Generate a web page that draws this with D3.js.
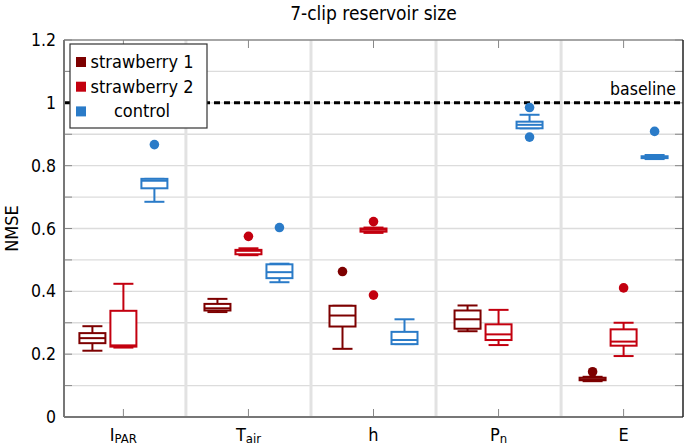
<!DOCTYPE html>
<html><head><meta charset="utf-8">
<script src="https://cdn.jsdelivr.net/npm/d3@7"></script>
<style>
body{margin:0;background:#fff;}
text{font-family:"DejaVu Sans Condensed","DejaVu Sans",sans-serif;fill:#000;}
</style></head>
<body><svg id="c" width="685" height="446"></svg>
<script>
// ---- data ----
const categories = ["I_PAR", "T_air", "h", "P_n", "E"];
const catMain = ["I", "T", "h", "P", "E"];
const catSub = ["PAR", "air", "", "n", ""];
const seriesNames = ["strawberry 1", "strawberry 2", "control"];
const seriesColors = ["#7d0000", "#c3000f", "#2a7bc8"];
// [lower whisker, q1, median, q3, upper whisker] per category
const strawberry1 = [
  [0.211, 0.235, 0.251, 0.267, 0.289],
  [0.334, 0.339, 0.346, 0.360, 0.376],
  [0.217, 0.288, 0.323, 0.354, 0.354],
  [0.273, 0.281, 0.311, 0.339, 0.355],
  [0.114, 0.117, 0.120, 0.125, 0.128]
];
const strawberry2 = [
  [0.221, 0.224, 0.228, 0.338, 0.424],
  [0.515, 0.518, 0.529, 0.532, 0.537],
  [0.586, 0.590, 0.596, 0.600, 0.603],
  [0.229, 0.245, 0.263, 0.295, 0.341],
  [0.194, 0.227, 0.240, 0.279, 0.300]
];
const control = [
  [0.685, 0.728, 0.752, 0.758, 0.758],
  [0.429, 0.442, 0.461, 0.486, 0.488],
  [0.232, 0.232, 0.245, 0.271, 0.311],
  [0.919, 0.919, 0.930, 0.940, 0.962],
  [0.821, 0.824, 0.827, 0.830, 0.834]
];
const outliers1 = [[], [], [0.463], [], [0.144]];
const outliers2 = [[], [0.575], [0.622, 0.388], [], [0.411]];
const outliersC = [[0.867], [0.603], [], [0.985, 0.891], [0.909]];
const yTicks = [0, 0.2, 0.4, 0.6, 0.8, 1, 1.2];
const yTickLabels = ["0", "0.2", "0.4", "0.6", "0.8", "1", "1.2"];
const baselineValue = 1;
const title = "7-clip reservoir size";
const yLabel = "NMSE";

// ---- layout ----
const svg = d3.select("#c");
const L = 64, R = 683, T = 40, B = 417;
const x = d3.scaleLinear().domain([0.525, 5.475]).range([L, R]);
const y = d3.scaleLinear().domain([0, 1.2]).range([B, T]);
const offset = d3.scaleOrdinal().domain([0, 1, 2]).range([-31, 0, 31]);
const boxW = 26, capW = 20;

const grid = d3.range(0, 13).map(i => i / 10);
// horizontal grid
svg.append("g").selectAll("line").data(grid.slice(1, 12)).join("line")
  .attr("x1", L).attr("x2", R).attr("y1", d => y(d)).attr("y2", d => y(d))
  .attr("stroke", "#dcdcdc").attr("stroke-width", 1.3);
// group separators
svg.append("g").selectAll("line").data([1.5, 2.5, 3.5, 4.5]).join("line")
  .attr("x1", d => x(d)).attr("x2", d => x(d)).attr("y1", T).attr("y2", B)
  .attr("stroke", "#e2e2e2").attr("stroke-width", 3);

// axis ticks (inward)
const tickG = svg.append("g").attr("stroke", "#888").attr("stroke-width", 1);
tickG.selectAll(".tl").data(grid).join("line").attr("class","tl")
  .attr("x1", L).attr("x2", L + 8).attr("y1", d => y(d)).attr("y2", d => y(d));
tickG.selectAll(".tr").data(grid).join("line").attr("class","tr")
  .attr("x1", R - 8).attr("x2", R).attr("y1", d => y(d)).attr("y2", d => y(d));
tickG.selectAll(".tb").data(d3.range(1, 6)).join("line").attr("class","tb")
  .attr("x1", d => x(d)).attr("x2", d => x(d)).attr("y1", B).attr("y2", B - 8);
tickG.selectAll(".tt").data(d3.range(1, 6)).join("line").attr("class","tt")
  .attr("x1", d => x(d)).attr("x2", d => x(d)).attr("y1", T).attr("y2", T + 8);

// baseline
svg.append("line").attr("x1", L).attr("x2", R)
  .attr("y1", y(baselineValue)).attr("y2", y(baselineValue))
  .attr("stroke", "#000").attr("stroke-width", 3).attr("stroke-dasharray", "6,4");
svg.append("text").attr("x", 676).attr("y", y(baselineValue) - 8)
  .attr("text-anchor", "end").attr("font-size", 17.5).text("baseline");

// boxes
const allSeries = [strawberry1, strawberry2, control];
const allOut = [outliers1, outliers2, outliersC];
allSeries.forEach((s, si) => {
  const col = seriesColors[si];
  const g = svg.append("g").attr("stroke", col).attr("fill", "none").attr("stroke-width", 2);
  s.forEach((st, ci) => {
    const cx = x(ci + 1) + offset(si);
    const [lw, q1, med, q3, uw] = st;
    g.append("line").attr("x1", cx).attr("x2", cx).attr("y1", y(q3)).attr("y2", y(uw));
    g.append("line").attr("x1", cx).attr("x2", cx).attr("y1", y(q1)).attr("y2", y(lw));
    g.append("line").attr("x1", cx - capW / 2).attr("x2", cx + capW / 2).attr("y1", y(uw)).attr("y2", y(uw));
    g.append("line").attr("x1", cx - capW / 2).attr("x2", cx + capW / 2).attr("y1", y(lw)).attr("y2", y(lw));
    g.append("rect").attr("x", cx - boxW / 2).attr("width", boxW)
      .attr("y", y(q3)).attr("height", Math.max(0, y(q1) - y(q3))).attr("fill", "#fff");
    g.append("line").attr("x1", cx - boxW / 2).attr("x2", cx + boxW / 2).attr("y1", y(med)).attr("y2", y(med));
    allOut[si][ci].forEach(v => {
      svg.append("circle").attr("cx", cx).attr("cy", y(v)).attr("r", 4.8).attr("fill", col);
    });
  });
});

// axes frame
svg.append("line").attr("x1", L).attr("x2", R).attr("y1", T).attr("y2", T).attr("stroke", "#888").attr("stroke-width", 1.5);
svg.append("line").attr("x1", L).attr("x2", R).attr("y1", B).attr("y2", B).attr("stroke", "#777").attr("stroke-width", 2);
svg.append("line").attr("x1", L).attr("x2", L).attr("y1", T).attr("y2", B).attr("stroke", "#777").attr("stroke-width", 2);
svg.append("line").attr("x1", R).attr("x2", R).attr("y1", T).attr("y2", B).attr("stroke", "#222").attr("stroke-width", 1.5);

// y tick labels
svg.append("g").selectAll("text").data(yTicks).join("text")
  .attr("x", 56).attr("y", d => y(d) + 6).attr("text-anchor", "end").attr("font-size", 17.5)
  .text((d, i) => yTickLabels[i]);

// x labels
categories.forEach((c, i) => {
  const t = svg.append("text").attr("x", x(i + 1)).attr("y", 441).attr("text-anchor", "middle").attr("font-size", 18);
  t.append("tspan").text(catMain[i]);
  if (catSub[i]) t.append("tspan").attr("font-size", 13).attr("dy", 2).text(catSub[i]);
});

// title & y label
svg.append("text").attr("x", (L + R) / 2).attr("y", 20).attr("text-anchor", "middle").attr("font-size", 19).text(title);
svg.append("text").attr("transform", `translate(18,${(T + B) / 2}) rotate(-90)`)
  .attr("text-anchor", "middle").attr("font-size", 18).text(yLabel);

// legend
const lg = svg.append("g");
lg.append("rect").attr("x", 70).attr("y", 44).attr("width", 137).attr("height", 84)
  .attr("fill", "#fff").attr("stroke", "#333").attr("stroke-width", 1.2);
seriesNames.forEach((n, i) => {
  const cy = 62 + i * 24.7;
  lg.append("rect").attr("x", 76).attr("y", cy - 5).attr("width", 10).attr("height", 10).attr("fill", seriesColors[i]);
  lg.append("text").attr("x", 142).attr("y", cy + 6).attr("text-anchor", "middle").attr("font-size", 18).text(n);
});
</script></body></html>
